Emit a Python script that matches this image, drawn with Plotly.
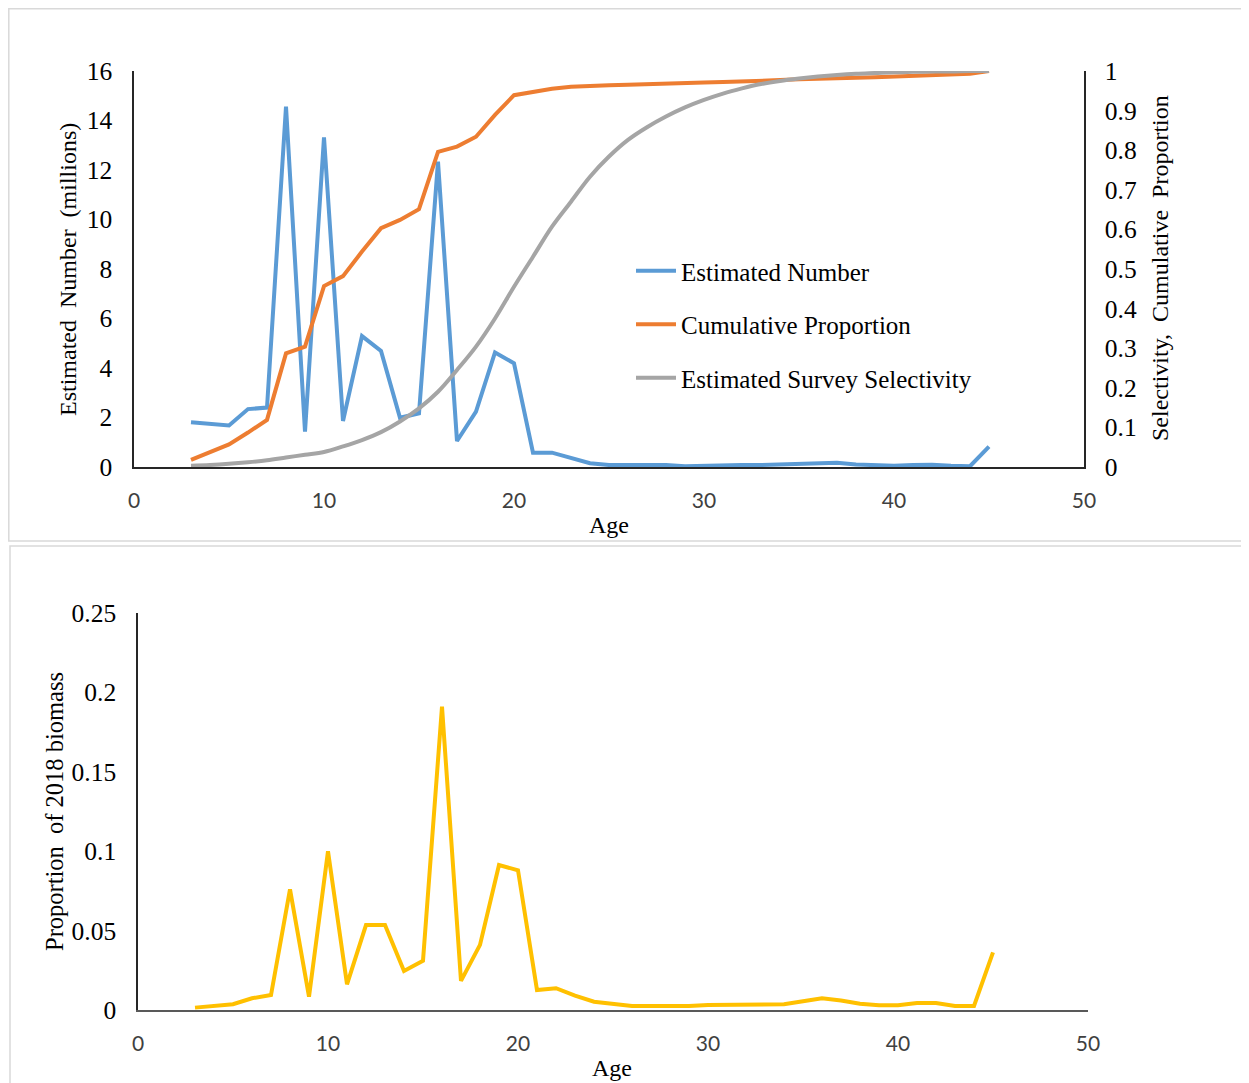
import plotly.graph_objects as go

# The page adds an 8px body margin, so the figure fills the rest of the window
OFF = 8
W, H = 1249 - OFF, 1083 - OFF

ages = list(range(3, 46))

estimated_number = [1.81, 1.76, 1.68, 2.34, 2.40, 14.56, 1.43, 13.32, 1.86, 5.29,
                    4.69, 1.99, 2.17, 12.34, 1.05, 2.24, 4.63, 4.19, 0.58, 0.58,
                    0.35, 0.15, 0.08, 0.08, 0.10, 0.08, 0.03, 0.06, 0.07, 0.08,
                    0.08, 0.10, 0.14, 0.17, 0.17, 0.10, 0.06, 0.05, 0.08, 0.09,
                    0.05, 0.03, 0.82]

cumulative_proportion = [0.018, 0.037, 0.057, 0.087, 0.119, 0.287, 0.304, 0.457, 0.482, 0.544,
                         0.603, 0.624, 0.651, 0.796, 0.809, 0.834, 0.889, 0.939, 0.948, 0.955,
                         0.960, 0.963, 0.964, 0.965, 0.967, 0.968, 0.969, 0.971, 0.972, 0.973,
                         0.975, 0.977, 0.979, 0.981, 0.982, 0.983, 0.984, 0.986, 0.988, 0.989,
                         0.991, 0.993, 1.000]

survey_selectivity = [0.003, 0.005, 0.008, 0.012, 0.017, 0.024, 0.031, 0.038, 0.052, 0.068,
                      0.088, 0.115, 0.148, 0.190, 0.245, 0.304, 0.375, 0.455, 0.531, 0.607,
                      0.670, 0.733, 0.784, 0.826, 0.858, 0.885, 0.908, 0.927, 0.943, 0.956,
                      0.967, 0.975, 0.981, 0.986, 0.990, 0.993, 0.995, 0.997, 0.998, 0.999,
                      0.999, 1.000, 1.000]

biomass_proportion = [0.0015, 0.0025, 0.0036, 0.0074, 0.0094, 0.076, 0.0084, 0.100, 0.0162, 0.0535,
                      0.0535, 0.0246, 0.031, 0.191, 0.0183, 0.041, 0.0913, 0.088, 0.0126, 0.0137,
                      0.009, 0.0052, 0.0038, 0.0025, 0.0025, 0.0025, 0.0025, 0.0032, 0.0034, 0.0036,
                      0.0036, 0.0036, 0.0055, 0.0074, 0.006, 0.004, 0.003, 0.003, 0.0044, 0.0044,
                      0.0025, 0.0025, 0.0363]

SERIF = "Liberation Serif, Times New Roman, serif"
SANS = "Lato, Liberation Sans, sans-serif"

def px_x(v):
    return (v - OFF) / W

def px_y(v):
    return 1 - (v - OFF) / H

fig = go.Figure()

fig.add_trace(go.Scatter(x=ages, y=estimated_number, mode="lines", name="Estimated Number",
                         line=dict(color="#5B9BD5", width=4), xaxis="x", yaxis="y",
                         legendgroup="a"))
fig.add_trace(go.Scatter(x=ages, y=cumulative_proportion, mode="lines", name="Cumulative Proportion",
                         line=dict(color="#ED7D31", width=4), xaxis="x", yaxis="y2",
                         legendgroup="b"))
fig.add_trace(go.Scatter(x=ages, y=survey_selectivity, mode="lines", name="Estimated Survey Selectivity",
                         line=dict(color="#A5A5A5", width=4, shape="spline", smoothing=1),
                         xaxis="x", yaxis="y2", legendgroup="c"))
fig.add_trace(go.Scatter(x=ages, y=biomass_proportion, mode="lines", name="Proportion of 2018 biomass",
                         line=dict(color="#FFC000", width=4), xaxis="x2", yaxis="y3",
                         showlegend=False))

axis_common = dict(showgrid=False, zeroline=False, ticks="", showline=True, automargin=False)
TICK_SERIF = dict(family=SERIF, size=25.5, color="black")
TICK_SANS = dict(family=SANS, size=21, color="#404040")

fig.update_layout(
    template="none",
    width=W, height=H,
    margin=dict(l=0, r=0, t=0, b=0, autoexpand=False),
    paper_bgcolor="white", plot_bgcolor="white",
    font=dict(family=SERIF, size=22, color="black"),
    hovermode="closest",
    xaxis=dict(domain=[px_x(134), px_x(1084)], range=[0, 50], dtick=10, anchor="y",
               linecolor="#262626", linewidth=1.5,
               tickfont=TICK_SANS, ticklabelstandoff=14,
               **axis_common),
    yaxis=dict(domain=[px_y(467), px_y(71)], range=[0, 16], dtick=2, anchor="x",
               linecolor="#262626", linewidth=1.5,
               tickfont=TICK_SERIF, ticklabelstandoff=15,
               **axis_common),
    yaxis2=dict(range=[0, 1], dtick=0.1, overlaying="y", side="right", anchor="x",
                linecolor="#262626", linewidth=1.5,
                tickfont=TICK_SERIF, ticklabelstandoff=14,
                **axis_common),
    xaxis2=dict(domain=[px_x(138), px_x(1088)], range=[0, 50], dtick=10, anchor="y3",
                linecolor="#595959", linewidth=2,
                tickfont=TICK_SANS, ticklabelstandoff=14,
                **axis_common),
    yaxis3=dict(domain=[px_y(1010), px_y(613)], range=[0, 0.25], dtick=0.05, anchor="x2",
                linecolor="#262626", linewidth=1.5,
                tickfont=TICK_SERIF, ticklabelstandoff=15,
                **axis_common),
    legend=dict(x=px_x(631), y=px_y(248), xanchor="left", yanchor="top",
                xref="paper", yref="paper",
                bgcolor="rgba(0,0,0,0)", borderwidth=0,
                font=dict(family=SERIF, size=25, color="black"),
                tracegroupgap=18, itemwidth=40),
    showlegend=True,
)

annotations = [
    dict(text="Estimated  Number  (millions)", x=px_x(68), y=px_y(270), textangle=-90, size=24),
    dict(text="Selectivity,\u00a0 Cumulative\u00a0 Proportion", x=px_x(1160), y=px_y(268), textangle=-90, size=24),
    dict(text="Age", x=px_x(609), y=px_y(525), textangle=0, size=24),
    dict(text="Proportion  of 2018 biomass", x=px_x(54), y=px_y(812), textangle=-90, size=24.5),
    dict(text="Age", x=px_x(612), y=px_y(1068), textangle=0, size=24),
]
for a in annotations:
    size = a.pop("size")
    fig.add_annotation(xref="paper", yref="paper", showarrow=False,
                       xanchor="center", yanchor="middle",
                       font=dict(family=SERIF, size=size, color="black"), **a)

# panel frames
fig.add_shape(type="rect", xref="paper", yref="paper",
              x0=px_x(8.8), x1=px_x(1245), y0=px_y(541), y1=px_y(8.8),
              line=dict(color="#D9D9D9", width=1.5), fillcolor="rgba(0,0,0,0)", layer="below")
fig.add_shape(type="rect", xref="paper", yref="paper",
              x0=px_x(10), x1=px_x(1252), y0=px_y(1090), y1=px_y(546),
              line=dict(color="#D9D9D9", width=1.5), fillcolor="rgba(0,0,0,0)", layer="below")

fig.write_html("out.html")
